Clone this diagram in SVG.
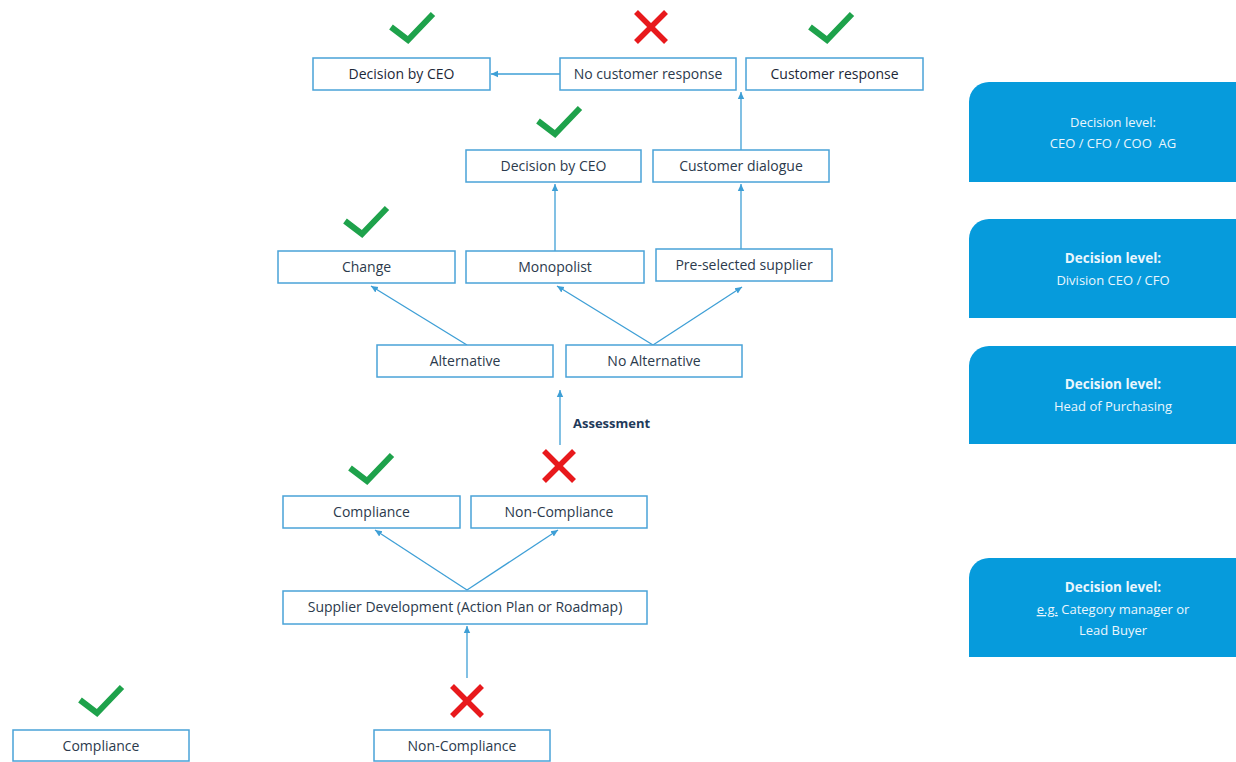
<svg xmlns="http://www.w3.org/2000/svg" xmlns:xlink="http://www.w3.org/1999/xlink" width="1236" height="762" viewBox="0 0 1236 762">
<style>
  .box rect { fill: #ffffff; stroke: #4aa3d8; stroke-width: 1.5; }
  .box text { font-family: "Open Sans", "Noto Sans", sans-serif; font-size: 14px; fill: #2b3a4c; text-anchor: middle; }
  .box text.b { font-weight: 500; fill: #1c2838; }
  .panel path { fill: #069bdc; }
  .panel text { font-family: "Open Sans", "Noto Sans", sans-serif; font-size: 13px; fill: #eaf6fd; text-anchor: middle; white-space: pre; }
  .panel text.b { font-weight: 700; font-size: 13.5px; }
  .conn line { stroke: #3e9fd6; stroke-width: 1.3; marker-end: url(#ah); }
  .chk { fill: none; stroke: #1ea24b; stroke-width: 6; stroke-linecap: butt; stroke-linejoin: miter; }
  .crs { fill: none; stroke: #e8191c; stroke-width: 5.5; }
  .lbl { font-family: "Open Sans", "Noto Sans", sans-serif; font-size: 13px; font-weight: 700; fill: #1f3a5a; }
</style>
<defs>
  <marker id="ah" markerWidth="8" markerHeight="8" refX="7" refY="4" orient="auto" markerUnits="userSpaceOnUse">
    <path d="M0,0.8 L7,4 L0,7.2 Z" fill="#3e9fd6"/>
  </marker>
  <path id="check" class="chk" d="M-21,-1 L-4,12 L21,-14"/>
  <g id="cross" class="crs"><line x1="-15" y1="-15" x2="15" y2="15"/><line x1="15" y1="-15" x2="-15" y2="15"/></g>
</defs>
<rect width="1236" height="762" fill="#ffffff"/>

<g id="connectors" class="conn">
  <line x1="560" y1="74" x2="491" y2="74"/>
  <line x1="741" y1="150" x2="741" y2="92"/>
  <line x1="555" y1="251" x2="555" y2="184"/>
  <line x1="741" y1="249" x2="741" y2="184"/>
  <line x1="467" y1="345" x2="371" y2="286"/>
  <line x1="653" y1="345" x2="557" y2="286"/>
  <line x1="653" y1="345" x2="742" y2="287"/>
  <line x1="560" y1="445" x2="560" y2="390"/>
  <line x1="467" y1="590" x2="375" y2="530"/>
  <line x1="467" y1="590" x2="558" y2="530"/>
  <line x1="467" y1="678" x2="467" y2="626"/>
</g>

<g id="n1" class="box"><rect x="313" y="58" width="177" height="32"/><text class="b" x="401.5" y="79">Decision by CEO</text></g>
<g id="n2" class="box"><rect x="560" y="58" width="176" height="32"/><text x="648" y="79">No customer response</text></g>
<g id="n3" class="box"><rect x="746" y="58" width="177" height="32"/><text class="b" x="834.5" y="79">Customer response</text></g>
<g id="n4" class="box"><rect x="466" y="150" width="175" height="32"/><text x="553.5" y="171">Decision by CEO</text></g>
<g id="n5" class="box"><rect x="653" y="150" width="176" height="32"/><text x="741" y="171">Customer dialogue</text></g>
<g id="n6" class="box"><rect x="278" y="251" width="177" height="32"/><text x="366.5" y="272">Change</text></g>
<g id="n7" class="box"><rect x="466" y="251" width="178" height="32"/><text x="555" y="272">Monopolist</text></g>
<g id="n8" class="box"><rect x="656" y="249" width="176" height="32"/><text x="744" y="270">Pre-selected supplier</text></g>
<g id="n9" class="box"><rect x="377" y="345" width="176" height="32"/><text x="465" y="366">Alternative</text></g>
<g id="n10" class="box"><rect x="566" y="345" width="176" height="32"/><text x="654" y="366">No Alternative</text></g>
<g id="n11" class="box"><rect x="283" y="496" width="177" height="32"/><text x="371.5" y="517">Compliance</text></g>
<g id="n12" class="box"><rect x="471" y="496" width="176" height="32"/><text x="559" y="517">Non-Compliance</text></g>
<g id="n13" class="box"><rect x="283" y="591" width="364" height="33"/><text x="465" y="612">Supplier Development (Action Plan or Roadmap)</text></g>
<g id="n14" class="box"><rect x="13" y="730" width="176" height="31"/><text x="101" y="750.5">Compliance</text></g>
<g id="n15" class="box"><rect x="374" y="730" width="176" height="31"/><text x="462" y="750.5">Non-Compliance</text></g>

<text class="lbl" x="573" y="428">Assessment</text>

<g id="marks">
  <use xlink:href="#check" x="412" y="28"/>
  <use xlink:href="#cross" x="651" y="27"/>
  <use xlink:href="#check" x="831" y="28"/>
  <use xlink:href="#check" x="559" y="122"/>
  <use xlink:href="#check" x="366" y="222"/>
  <use xlink:href="#check" x="371" y="469"/>
  <use xlink:href="#cross" x="559" y="466"/>
  <use xlink:href="#check" x="101" y="701"/>
  <use xlink:href="#cross" x="467" y="701"/>
</g>

<g id="p1" class="panel">
  <path d="M969,182 V102 A20,20 0 0 1 989,82 H1236 V182 Z"/>
  <text x="1113" y="127">Decision level:</text>
  <text x="1113" y="148" xml:space="preserve">CEO / CFO / COO  AG</text>
</g>
<g id="p2" class="panel">
  <path d="M969,318 V239 A20,20 0 0 1 989,219 H1236 V318 Z"/>
  <text class="b" x="1113" y="263">Decision level:</text>
  <text x="1113" y="285">Division CEO / CFO</text>
</g>
<g id="p3" class="panel">
  <path d="M969,444 V366 A20,20 0 0 1 989,346 H1236 V444 Z"/>
  <text class="b" x="1113" y="389">Decision level:</text>
  <text x="1113" y="411">Head of Purchasing</text>
</g>
<g id="p4" class="panel">
  <path d="M969,657 V578 A20,20 0 0 1 989,558 H1236 V657 Z"/>
  <text class="b" x="1113" y="592">Decision level:</text>
  <text x="1113" y="614"><tspan text-decoration="underline">e.g.</tspan> Category manager or</text>
  <text x="1113" y="635">Lead Buyer</text>
</g>
</svg>
